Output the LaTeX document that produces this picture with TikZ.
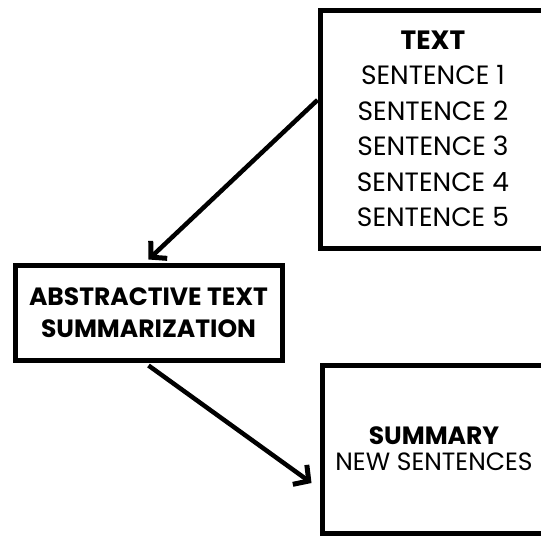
\documentclass[tikz,border=0pt]{standalone}
\usepackage{fontspec}
\setmainfont{Poppins}
\usetikzlibrary{arrows.meta,calc}
\begin{document}
\begin{tikzpicture}[x=1pt,y=-1pt,
  box/.style={draw=black,line width=5pt,fill=white,align=center,inner sep=0pt},
  conn/.style={line width=4.5pt,-{Straight Barb[length=11pt,width=24pt,line width=5pt]}},
  body/.style={font=\fontsize{26.5}{35.5}\selectfont}]
\useasboundingbox (0,0) rectangle (541,536);
\clip (0,0) rectangle (541,536);
\fill[white] (0,0) rectangle (541,536);

% source text with its five sentences
\node[box,body,minimum width=226pt,minimum height=238pt] (txt) at (433,129)
  {\textbf{TEXT}\\SENTENCE 1\\SENTENCE 2\\SENTENCE 3\\SENTENCE 4\\SENTENCE 5};

% the summarizer
\node[box,minimum width=267pt,minimum height=95pt,
  font=\fontsize{25}{32}\selectfont\bfseries] (abs) at (148.5,312.5)
  {ABSTRACTIVE TEXT\\SUMMARIZATION};

% resulting summary
\node[box,minimum width=224pt,minimum height=168pt,
  font=\fontsize{25}{26}\selectfont] (sum) at (434,449)
  {\textbf{SUMMARY}\\NEW SENTENCES};

\draw[conn] ([yshift=29pt]txt.west) -- ([yshift=3pt]abs.north);
\draw[conn] ([yshift=-3pt]abs.south) -- ([xshift=-8pt,yshift=-34pt]sum.west);
\end{tikzpicture}
\end{document}
